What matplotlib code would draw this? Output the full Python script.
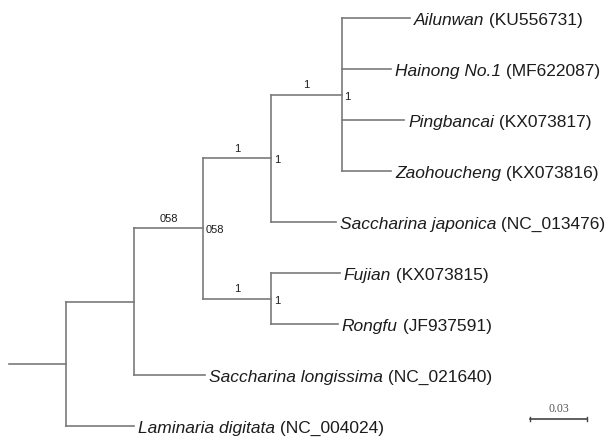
import matplotlib
matplotlib.use('Agg')
from matplotlib import pyplot as plt

plt.rcParams['font.family'] = ['Liberation Sans', 'DejaVu Sans']

# tips, top to bottom
tips = ['Ailunwan', 'Hainong No.1', 'Pingbancai', 'Zaohoucheng',
        'Saccharina japonica', 'Fujian', 'Rongfu',
        'Saccharina longissima', 'Laminaria digitata']
accessions = ['KU556731', 'MF622087', 'KX073817', 'KX073816',
              'NC_013476', 'KX073815', 'JF937591',
              'NC_021640', 'NC_004024']
tip_parent = ['F', 'F', 'F', 'F', 'D', 'E', 'E', 'B', 'A']
tip_length = [0.036, 0.026, 0.033, 0.026, 0.034, 0.036, 0.035, 0.037, 0.036]

# internal nodes (root first)
nodes = ['A', 'B', 'C', 'D', 'E', 'F']
node_parent = [None, 'A', 'B', 'C', 'C', 'D']
node_length = [0.030, 0.036, 0.036, 0.036, 0.036, 0.037]
node_support = [None, None, '058', '1', '1', '1']

scale_len = 0.03
scale_label = '0.03'

line_col = '#7a7a7a'
txt_col = '#1c1c1c'

# x position of each node
xpos = {}
for n, p, l in zip(nodes, node_parent, node_length):
    xpos[n] = (0.0 if p is None else xpos[p]) + l
# y position: tips by index, internal nodes midway between extreme children
ypos = {}
children = {n: [] for n in nodes}
for i, (t, p) in enumerate(zip(tips, tip_parent)):
    ypos[t] = i
    children[p].append(t)
for n, p in zip(nodes, node_parent):
    if p is not None:
        children[p].append(n)
for n in reversed(nodes):
    ys = [ypos[c] for c in children[n]]
    ypos[n] = (min(ys) + max(ys)) / 2.0

k = 0.03 / 57.0  # data units per pixel
fig = plt.figure(figsize=(6.13, 4.39), dpi=100)
ax = fig.add_axes([0, 0, 1, 1])
ax.set_xlim(-9 * k, 604 * k)
ax.set_ylim((439 - 19) / 51.0, -19 / 51.0)
ax.axis('off')

lw = 1.2
# root stem
ax.plot([0, xpos['A']], [ypos['A']] * 2, color=line_col, lw=lw)
# vertical connectors
for n in nodes:
    ys = [ypos[c] for c in children[n]]
    ax.plot([xpos[n]] * 2, [min(ys), max(ys)], color=line_col, lw=lw)
# internal branches + support values
for n, p, s in zip(nodes, node_parent, node_support):
    if p is None:
        continue
    ax.plot([xpos[p], xpos[n]], [ypos[n]] * 2, color=line_col, lw=lw)
    if s:
        ax.text((xpos[p] + xpos[n]) / 2, ypos[n] - 0.1, s, fontsize=8,
                color=txt_col, ha='center', va='bottom')
        ax.text(xpos[n] + 3 * k, ypos[n] + 0.02, s, fontsize=8,
                color=txt_col, ha='left', va='center')
# tip branches + labels
for t, acc, p, l in zip(tips, accessions, tip_parent, tip_length):
    x_end = xpos[p] + l
    ax.plot([xpos[p], x_end], [ypos[t]] * 2, color=line_col, lw=lw)
    lab = ax.text(x_end + 4 * k, ypos[t], t, fontsize=12.5, style='italic',
                  color=txt_col, ha='left', va='center_baseline')
    ax.annotate(' (' + acc + ')', xy=(1, ypos[t]), xycoords=(lab, 'data'),
                fontsize=12.5, color=txt_col, ha='left', va='center_baseline')

# scale bar
sx = (530 - 9) * k
sy = (420 - 19) / 51.0
ax.plot([sx, sx + scale_len], [sy, sy], color='#444444', lw=1.2)
ax.plot([sx, sx], [sy - 0.04, sy + 0.04], color='#444444', lw=1.0)
ax.plot([sx + scale_len] * 2, [sy - 0.04, sy + 0.04], color='#444444', lw=1.0)
ax.text(sx + scale_len / 2, sy - 0.1, scale_label, fontsize=8.5,
        family='Liberation Serif', color='#555555', ha='center', va='bottom')

fig.savefig('out.png', dpi=100)
